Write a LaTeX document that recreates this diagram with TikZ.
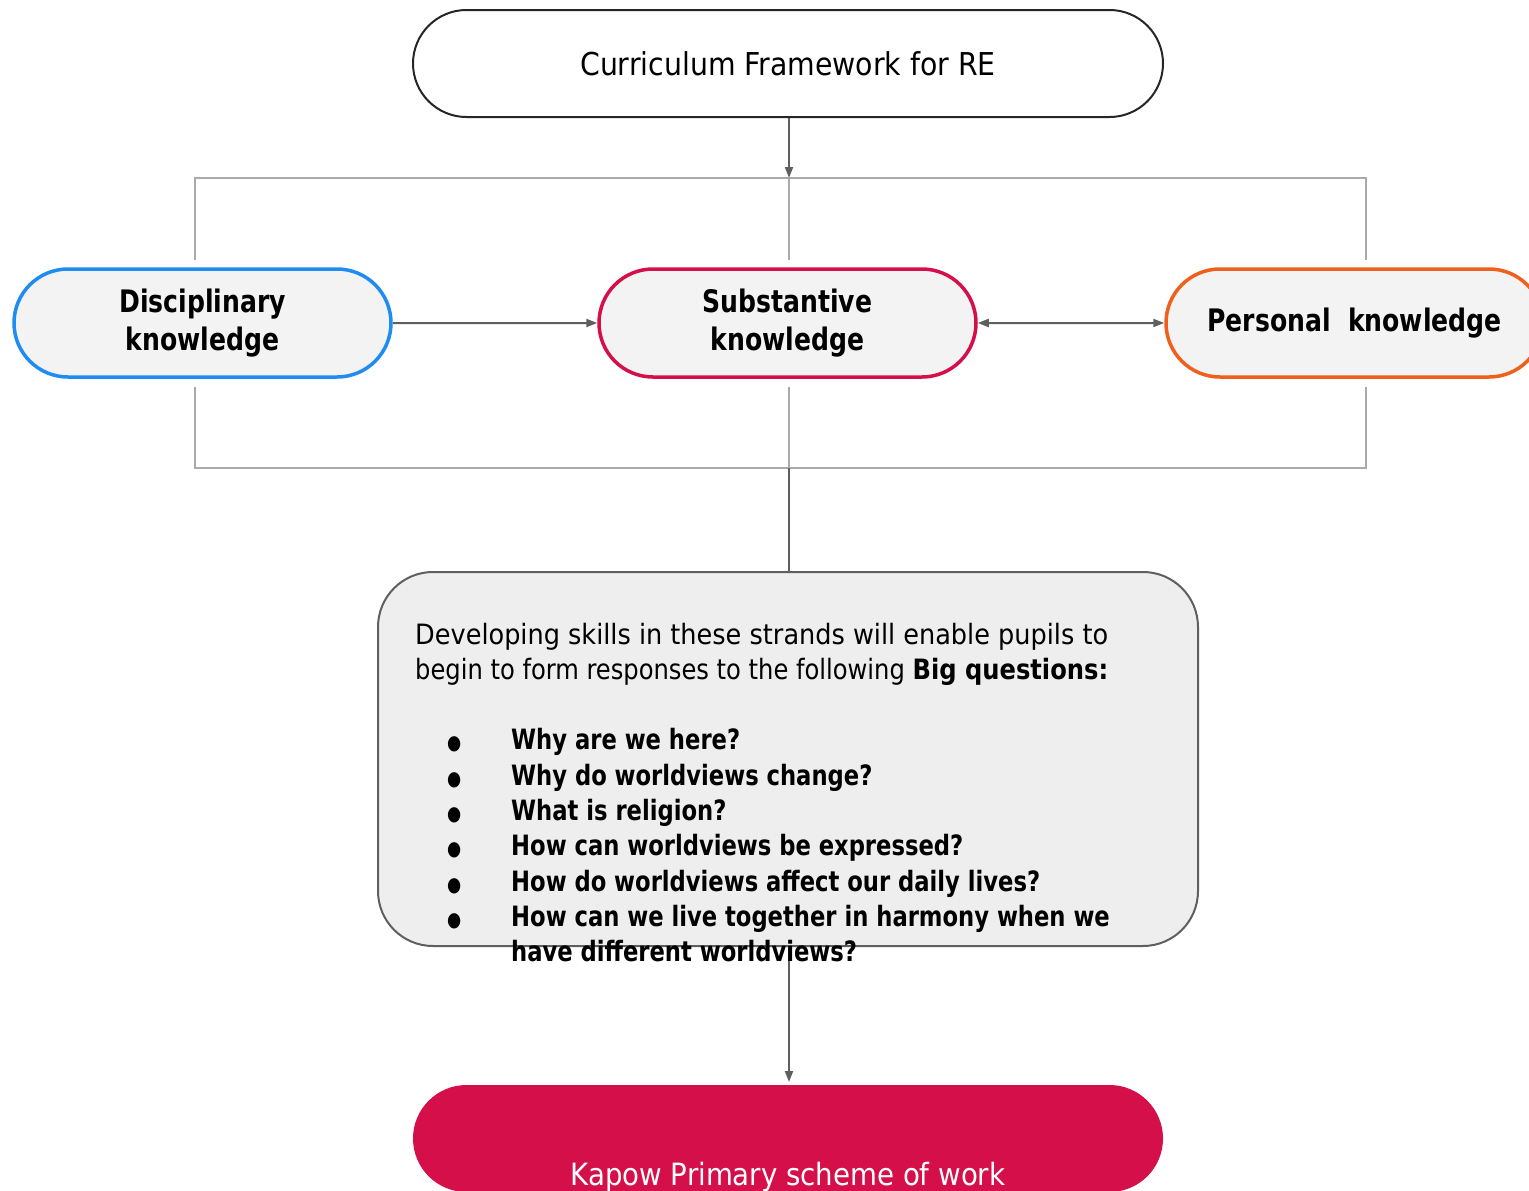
\documentclass[tikz,border=0pt]{standalone}
\usepackage{fontspec}
\setmainfont{DejaVu Sans Condensed}
\newfontfamily\narrowfont[FakeStretch=0.9]{DejaVu Sans Condensed}
\usetikzlibrary{arrows.meta,shapes.misc,calc}
\definecolor{discblue}{RGB}{30,140,240}
\definecolor{substred}{RGB}{213,15,74}
\definecolor{persorange}{RGB}{238,96,28}
\definecolor{pillgrey}{RGB}{243,243,243}
\definecolor{boxgrey}{RGB}{238,238,238}
\definecolor{framegrey}{RGB}{170,170,170}
\definecolor{linegrey}{RGB}{95,95,95}
\begin{document}
\begin{tikzpicture}[x=1pt,y=-1pt,>={Triangle[length=11pt,width=8pt]}]
  \tikzstyle{pill}=[rounded rectangle, draw, inner sep=0pt, align=center]
  \tikzstyle{bigpill}=[pill, minimum width=750pt, minimum height=107pt, line width=2pt, draw=black!85, font=\fontsize{31.5}{36}\selectfont]
  \tikzstyle{strand}=[pill, minimum width=377pt, minimum height=108pt, line width=3.5pt, fill=pillgrey, font=\narrowfont\bfseries\fontsize{31}{38}\selectfont]
  \tikzstyle{frame}=[draw=framegrey, line width=2pt]
  \tikzstyle{conn}=[draw=linegrey, line width=2pt]
  \tikzstyle{boxtext}=[inner sep=0pt, align=left, font=\fontsize{28}{35}\selectfont]
  \useasboundingbox (0,0) rectangle (1529,1191);
  \clip (0,0) rectangle (1529,1191);
  % framework and scheme of work
  \node[bigpill] (curr) at (788,63.5) {Curriculum Framework for RE};
  \node[bigpill, draw=none, fill=substred] (kapow) at (788,1138.5) {};
  \node[font=\fontsize{30.7}{36}\selectfont, text=white, anchor=base] (kapowtext) at (788,1185) {Kapow Primary scheme of work};
  % three strands
  \node[strand, draw=discblue] (disc) at (202.5,323) {Disciplinary\\knowledge};
  \node[strand, draw=substred] (subst) at (787.5,323) {Substantive\\knowledge};
  \node[strand, draw=persorange] (pers) at (1354.5,323) {Personal\ \ knowledge};
  % big questions box
  \node[draw=linegrey, line width=2pt, fill=boxgrey, rounded corners=55pt, minimum width=820pt, minimum height=374pt, inner sep=0pt] (bigq) at (788,759) {};
  % frame round the strands
  \coordinate (fl) at (195,178);
  \coordinate (fr) at (1366,178);
  \coordinate (ftop) at (789,178);
  \coordinate (fbot) at (789,468);
  \draw[frame] ($(disc.north -| fl)+(0,-7)$) |- (fr) -- ($(pers.north -| fr)+(0,-7)$);
  \draw[frame] ($(subst.north -| ftop)+(0,-7)$) -- (ftop);
  \draw[frame] ($(disc.south -| fl)+(0,8)$) |- (fbot -| fr) -- ($(pers.south -| fr)+(0,8)$);
  \draw[frame] ($(subst.south -| fbot)+(0,8)$) -- (fbot);
  % connectors
  \draw[conn,->] (curr.south -| ftop) -- (ftop);
  \path[->] (disc) edge[conn] (subst);
  \path[<->] (subst) edge[conn] (pers);
  \draw[conn] (fbot) -- (bigq.north -| fbot);
  \draw[conn,->] (bigq.south -| fbot) -- ($(kapow.north -| fbot)+(0,-2)$);
  % text of the box
  \node[boxtext, anchor=north west] (qintro) at (415,623) {\resizebox{693pt}{\height}{Developing skills in these strands will enable pupils to}\\\resizebox{693pt}{\height}{begin to form responses to the following \textbf{Big questions:}}};
  \node[boxtext, font=\narrowfont\fontsize{28}{35.3}\selectfont, anchor=north west] (qlist) at (447,725) {\begin{tabular}{@{}p{64pt}@{}l@{}}
    {\fontsize{20}{35}\selectfont ●} & \textbf{Why are we here?}\\
    {\fontsize{20}{35}\selectfont ●} & \textbf{Why do worldviews change?}\\
    {\fontsize{20}{35}\selectfont ●} & \textbf{What is religion?}\\
    {\fontsize{20}{35}\selectfont ●} & \textbf{How can worldviews be expressed?}\\
    {\fontsize{20}{35}\selectfont ●} & \textbf{How do worldviews affect our daily lives?}\\
    {\fontsize{20}{35}\selectfont ●} & \textbf{How can we live together in harmony when we}\\
    & \textbf{have different worldviews?}
  \end{tabular}};
\end{tikzpicture}
\end{document}
